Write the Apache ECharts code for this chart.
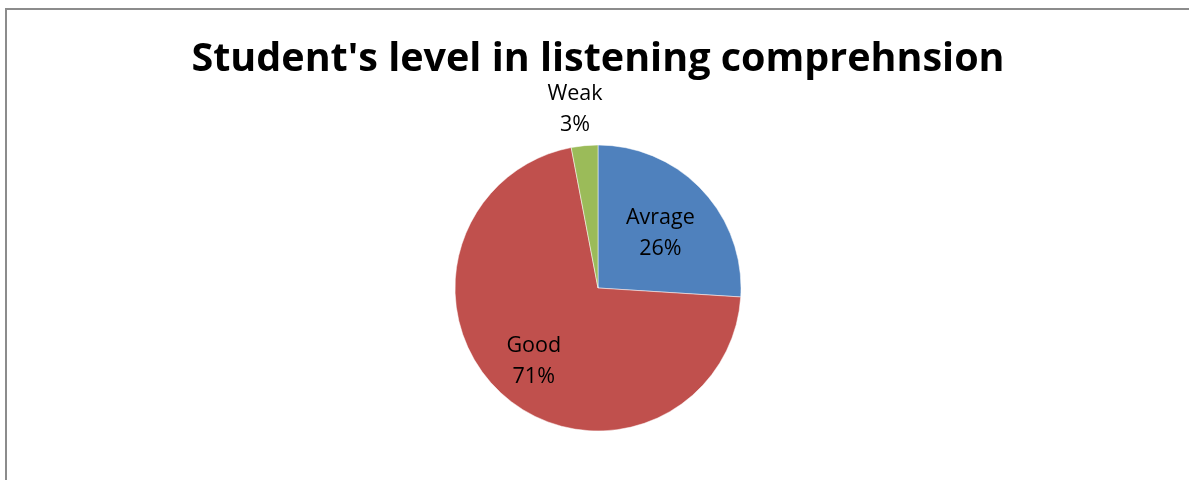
<!DOCTYPE html>
<html><head><meta charset="utf-8">
<script src="https://cdn.jsdelivr.net/npm/echarts@6/dist/echarts.min.js"></script>
<style>html,body{margin:0;padding:0;background:#fff}#c{width:1189px;height:480px}</style>
</head><body><div id="c"></div>
<script>
const titleText = "Student's level in listening comprehnsion";
const categories = ["Avrage", "Good", "Weak"];
const values = [26, 71, 3];
const colors = ["#4F81BD", "#C0504D", "#9BBB59"];
const labelOffsets = [[8, -4], [-15, 17], [-16, -104]];

const chart = echarts.init(document.getElementById('c'));
chart.setOption({
  animation: false,
  graphic: [{
    type: 'rect', shape: {x: 6, y: 9, width: 1400, height: 800},
    style: {fill: 'none', stroke: '#8c8c8c', lineWidth: 2}, silent: true
  }],
  title: {
    text: titleText, left: 593, top: 35, textAlign: 'center',
    textStyle: {fontFamily: 'Open Sans', fontWeight: 'bold', fontSize: 39.5, color: '#000'}
  },
  series: [{
    type: 'pie', center: [598, 288], radius: 143, startAngle: 90, clockwise: true,
    avoidLabelOverlap: false,
    itemStyle: {borderColor: '#fff', borderWidth: 0.5},
    label: {
      show: true, position: 'inside', formatter: '{b}\n{c}%',
      fontFamily: 'Open Sans', fontSize: 21.5, lineHeight: 31, color: '#000'
    },
    labelLine: {show: false},
    data: categories.map((n, i) => ({
      name: n, value: values[i], itemStyle: {color: colors[i]},
      label: {offset: labelOffsets[i]}
    }))
  }]
});
</script></body></html>
